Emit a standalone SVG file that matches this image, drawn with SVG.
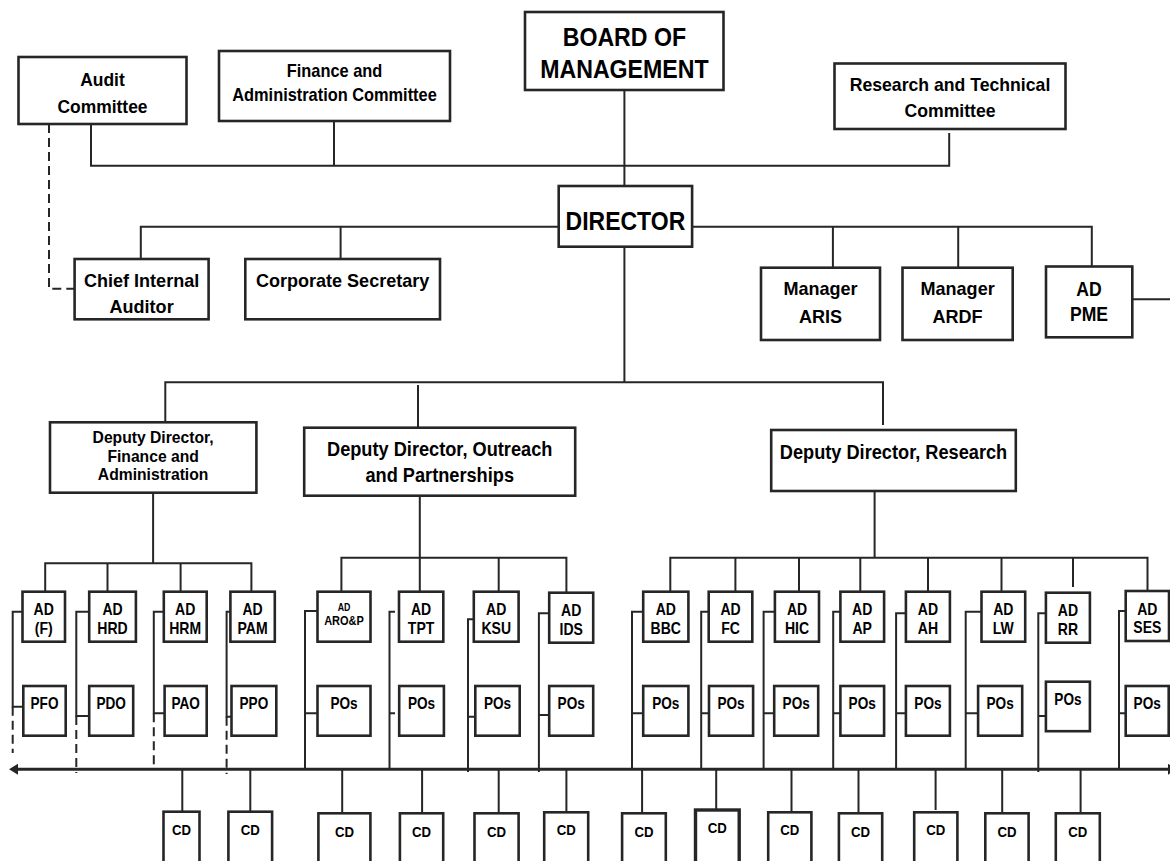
<svg xmlns="http://www.w3.org/2000/svg" width="1170" height="861" viewBox="0 0 1170 861">
  <defs>
    <style>
      .box { fill: #fff; stroke: #262626; stroke-width: 2.6; }
      .ln { fill: none; stroke: #262626; stroke-width: 2; }
      .dash { stroke-dasharray: 9 5; }
      .axis { fill: none; stroke: #262626; stroke-width: 3; }
      text { font-family: "Liberation Sans", Arial, sans-serif; font-weight: bold; fill: #000; text-anchor: middle; }
      .f26 { font-size: 26px; }
      .f25 { font-size: 25px; }
      .f20 { font-size: 20px; }
      .f19 { font-size: 19px; }
      .f18 { font-size: 18px; }
      .f16 { font-size: 16px; }
      .fad { font-size: 16.5px; }
      .f15 { font-size: 15px; }
      .f12 { font-size: 12.5px; }
      .f10 { font-size: 10px; }
    </style>
    <marker id="arrow" markerUnits="userSpaceOnUse" markerWidth="10" markerHeight="12" refX="0" refY="5.5" orient="auto-start-reverse">
      <path d="M0,0 L9,5.5 L0,11 Z" fill="#262626"/>
    </marker>
  </defs>
  <rect width="1170" height="861" fill="#fff"/>

  <!-- connectors -->
  <g id="connectors">
    <!-- board and committees -->
    <path class="ln" d="M91,124 V165.7 H949.2 V133"/>
    <path class="ln" d="M334,121 V165.7"/>
    <path class="ln" d="M624.4,90 V186"/>
    <path class="ln dash" d="M49,124 V288.7 H74.6"/>
    <!-- director staff line -->
    <path class="ln" d="M140.8,259 V226.7 H558.7"/>
    <path class="ln" d="M340.6,226.7 V259"/>
    <path class="ln" d="M692,226.7 H1091.8 V266.5"/>
    <path class="ln" d="M832.9,226.7 V267.7"/>
    <path class="ln" d="M958.2,226.7 V267.7"/>
    <path class="ln" d="M1132.3,299.3 H1170"/>
    <!-- director to deputies -->
    <path class="ln" d="M624.4,246.7 V382.3"/>
    <path class="ln" d="M165.3,422.3 V382.3 H883 V425"/>
    <path class="ln" d="M418,385 V427.7"/>
    <!-- finance and administration branch -->
    <path class="ln" d="M153.1,492.7 V563.3"/>
    <path class="ln" d="M45.2,591.7 V563.3 H251.4 V591.7"/>
    <path class="ln" d="M107.5,563.3 V591.7"/>
    <path class="ln" d="M180.6,563.3 V591.7"/>
    <!-- outreach and partnerships branch -->
    <path class="ln" d="M419.8,495.7 V591.7"/>
    <path class="ln" d="M341.4,591.7 V557.7 H566.4 V592.7"/>
    <path class="ln" d="M498.7,557.7 V591.7"/>
    <!-- research branch -->
    <path class="ln" d="M874.6,491 V557.7"/>
    <path class="ln" d="M670.3,591.7 V557.7 H1147.5 V591"/>
    <path class="ln" d="M735.4,557.7 V591.7"/>
    <path class="ln" d="M799,557.7 V591.7"/>
    <path class="ln" d="M860.3,557.7 V591.7"/>
    <path class="ln" d="M928,557.7 V591.7"/>
    <path class="ln" d="M1001.5,557.7 V591.7"/>
    <path class="ln" d="M1073,557.7 V587"/>
    <!-- AD to PO brackets -->
    <path class="ln" d="M22.5,611.7 H12.7 V706.7 H23.3"/>
    <path class="ln dash" d="M12.7,706.7 V753"/>
    <path class="ln" d="M89.2,611.7 H76.3 V716 H89.2"/>
    <path class="ln dash" d="M76.3,716 V773"/>
    <path class="ln" d="M163.8,611.7 H153.8 V713.3 H164.6"/>
    <path class="ln dash" d="M153.8,713.3 V767"/>
    <path class="ln" d="M230.4,611.7 H226.6 V716.7 H231.5"/>
    <path class="ln dash" d="M226.6,716.7 V774"/>
    <path class="ln" d="M317.5,611 H305 V769.3 M305,713.3 H317.5"/>
    <path class="ln" d="M395,611.7 H389.5 V769.3 M389.5,713.3 H395"/>
    <path class="ln" d="M473.8,619.3 H468 V772 M468,716.7 H475.3"/>
    <path class="ln" d="M549.2,613.3 H538.9 V772 M538.9,715 H549.2"/>
    <path class="ln" d="M643.2,611.7 H632 V769.3 M632,713.3 H643.2"/>
    <path class="ln" d="M708.7,611.7 H701.2 V769.3 M701.2,713.3 H709"/>
    <path class="ln" d="M774.9,611.7 H763.6 V769.3 M763.6,713.3 H774.2"/>
    <path class="ln" d="M840.4,611.7 H833.2 V769.3 M833.2,713.3 H840.4"/>
    <path class="ln" d="M905.9,613.3 H896.1 V769.3 M896.1,713.3 H905.9"/>
    <path class="ln" d="M981.5,611.7 H965.7 V769.3 M965.7,713.3 H978.1"/>
    <path class="ln" d="M1045.9,613.3 H1038.3 V772 M1038.3,716 H1045.9"/>
    <path class="ln" d="M1125.7,611 H1119 V769.3 M1119,713.3 H1125.7"/>
    <!-- common line with arrows at both ends -->
    <line class="axis" x1="18" y1="769.3" x2="1168" y2="769.3" marker-start="url(#arrow)" marker-end="url(#arrow)"/>
    <!-- drops to CD boxes -->
    <path class="ln" d="M182.3,769.3 V811.7 M250.3,769.3 V811.7 M342.2,769.3 V813.3 M422.1,769.3 V813.3 M498.7,769.3 V813.3 M566.4,769.3 V812.3 M642.1,769.3 V813.3 M716.2,769.3 V810 M791.5,769.3 V812.3 M858.5,769.3 V813.3 M935.6,769.3 V810 M1002.2,769.3 V813.3 M1080.6,769.3 V813.3"/>
  </g>

  <!-- top level -->
  <g id="audit-committee">
    <rect class="box" x="18.5" y="57" width="168" height="67"/>
    <text class="f18" transform="translate(102.5,0) scale(0.97,1)"><tspan x="0" y="86">Audit</tspan><tspan x="0" y="113">Committee</tspan></text>
  </g>
  <g id="finance-committee">
    <rect class="box" x="219" y="51" width="231" height="70"/>
    <text class="f18" transform="translate(334.5,0) scale(0.91,1)"><tspan x="0" y="77">Finance and</tspan><tspan x="0" y="101.5">Administration Committee</tspan></text>
  </g>
  <g id="board">
    <rect class="box" x="525" y="12" width="198.5" height="78"/>
    <text class="f26" transform="translate(624.4,0) scale(0.89,1)"><tspan x="0" y="46">BOARD OF</tspan><tspan x="0" y="78">MANAGEMENT</tspan></text>
  </g>
  <g id="research-committee">
    <rect class="box" x="834.5" y="63.5" width="231" height="65.5"/>
    <text class="f18" transform="translate(950,0) scale(0.98,1)"><tspan x="0" y="91.5">Research and Technical</tspan><tspan x="0" y="117">Committee</tspan></text>
  </g>

  <!-- director and staff -->
  <g id="director">
    <rect class="box" x="558.7" y="186" width="133.4" height="60.7"/>
    <text class="f25" transform="translate(625.4,0) scale(0.92,1)"><tspan x="0" y="230">DIRECTOR</tspan></text>
  </g>
  <g id="chief-internal-auditor">
    <rect class="box" x="74.6" y="259" width="134" height="60.3"/>
    <text class="f19" transform="translate(141.6,0) scale(0.95,1)"><tspan x="0" y="287.3">Chief Internal</tspan><tspan x="0" y="313.3">Auditor</tspan></text>
  </g>
  <g id="corporate-secretary">
    <rect class="box" x="245.3" y="259" width="194.7" height="60.3"/>
    <text class="f19" transform="translate(342.6,0) scale(0.95,1)"><tspan x="0" y="287.3">Corporate Secretary</tspan></text>
  </g>
  <g id="manager-aris">
    <rect class="box" x="761" y="267.7" width="119" height="72.3"/>
    <text class="f19" transform="translate(820.5,0) scale(0.95,1)"><tspan x="0" y="295">Manager</tspan><tspan x="0" y="323.3">ARIS</tspan></text>
  </g>
  <g id="manager-ardf">
    <rect class="box" x="902.5" y="267.7" width="110.2" height="72.3"/>
    <text class="f19" transform="translate(957.6,0) scale(0.95,1)"><tspan x="0" y="295">Manager</tspan><tspan x="0" y="323.3">ARDF</tspan></text>
  </g>
  <g id="ad-pme">
    <rect class="box" x="1046" y="266.5" width="86.3" height="70.8"/>
    <text class="f20" transform="translate(1089,0) scale(0.88,1)"><tspan x="0" y="296">AD</tspan><tspan x="0" y="320.7">PME</tspan></text>
  </g>

  <!-- deputy directors -->
  <g id="dd-finance-admin">
    <rect class="box" x="50" y="422.3" width="206.4" height="70.4"/>
    <text class="f16" transform="translate(153.1,0) scale(0.98,1)"><tspan x="0" y="443.5">Deputy Director,</tspan><tspan x="0" y="462">Finance and</tspan><tspan x="0" y="480.5">Administration</tspan></text>
  </g>
  <g id="dd-outreach">
    <rect class="box" x="304.2" y="427.7" width="271" height="68"/>
    <text class="f20" transform="translate(439.7,0) scale(0.91,1)"><tspan x="0" y="456">Deputy Director, Outreach</tspan><tspan x="0" y="482">and Partnerships</tspan></text>
  </g>
  <g id="dd-research">
    <rect class="box" x="771.2" y="430" width="244.6" height="61"/>
    <text class="f20" transform="translate(893.5,0) scale(0.91,1)"><tspan x="0" y="459.3">Deputy Director, Research</tspan></text>
  </g>

  <!-- assistant directors -->
  <g id="ad-f"><rect class="box" x="22.5" y="591.7" width="42.5" height="50"/>
    <text class="fad" transform="translate(43.7,0) scale(0.85,1)"><tspan x="0" y="615.5">AD</tspan><tspan x="0" y="634.5">(F)</tspan></text></g>
  <g id="ad-hrd"><rect class="box" x="89.2" y="591.7" width="46.7" height="50"/>
    <text class="fad" transform="translate(112.5,0) scale(0.85,1)"><tspan x="0" y="615.5">AD</tspan><tspan x="0" y="634">HRD</tspan></text></g>
  <g id="ad-hrm"><rect class="box" x="163.8" y="591.7" width="42.9" height="50"/>
    <text class="fad" transform="translate(185.2,0) scale(0.85,1)"><tspan x="0" y="615.5">AD</tspan><tspan x="0" y="634">HRM</tspan></text></g>
  <g id="ad-pam"><rect class="box" x="230.4" y="591.7" width="44.4" height="50"/>
    <text class="fad" transform="translate(252.6,0) scale(0.85,1)"><tspan x="0" y="615.5">AD</tspan><tspan x="0" y="634">PAM</tspan></text></g>
  <g id="ad-arop"><rect class="box" x="317.5" y="591.7" width="53" height="50"/>
    <text transform="translate(344,0) scale(0.88,1)"><tspan class="f10" x="0" y="610.7">AD</tspan><tspan class="f12" x="0" y="625">ARO&amp;P</tspan></text></g>
  <g id="ad-tpt"><rect class="box" x="399" y="591.7" width="44.3" height="50"/>
    <text class="fad" transform="translate(421.1,0) scale(0.85,1)"><tspan x="0" y="615.5">AD</tspan><tspan x="0" y="634">TPT</tspan></text></g>
  <g id="ad-ksu"><rect class="box" x="473.8" y="591.7" width="44.8" height="50"/>
    <text class="fad" transform="translate(496.2,0) scale(0.85,1)"><tspan x="0" y="615.5">AD</tspan><tspan x="0" y="634">KSU</tspan></text></g>
  <g id="ad-ids"><rect class="box" x="549.2" y="592.7" width="44" height="50"/>
    <text class="fad" transform="translate(571.2,0) scale(0.85,1)"><tspan x="0" y="616.5">AD</tspan><tspan x="0" y="635">IDS</tspan></text></g>
  <g id="ad-bbc"><rect class="box" x="643.2" y="591.7" width="45.2" height="50"/>
    <text class="fad" transform="translate(665.8,0) scale(0.85,1)"><tspan x="0" y="615.5">AD</tspan><tspan x="0" y="634">BBC</tspan></text></g>
  <g id="ad-fc"><rect class="box" x="708.7" y="591.7" width="43.6" height="50"/>
    <text class="fad" transform="translate(730.5,0) scale(0.85,1)"><tspan x="0" y="615.5">AD</tspan><tspan x="0" y="634">FC</tspan></text></g>
  <g id="ad-hic"><rect class="box" x="774.9" y="591.7" width="44.1" height="50"/>
    <text class="fad" transform="translate(797,0) scale(0.85,1)"><tspan x="0" y="615.5">AD</tspan><tspan x="0" y="634">HIC</tspan></text></g>
  <g id="ad-ap"><rect class="box" x="840.4" y="591.7" width="43.7" height="50"/>
    <text class="fad" transform="translate(862.2,0) scale(0.85,1)"><tspan x="0" y="615.5">AD</tspan><tspan x="0" y="634">AP</tspan></text></g>
  <g id="ad-ah"><rect class="box" x="905.9" y="591.7" width="44" height="50"/>
    <text class="fad" transform="translate(927.9,0) scale(0.85,1)"><tspan x="0" y="615.5">AD</tspan><tspan x="0" y="634">AH</tspan></text></g>
  <g id="ad-lw"><rect class="box" x="981.5" y="591.7" width="43.7" height="50"/>
    <text class="fad" transform="translate(1003.3,0) scale(0.85,1)"><tspan x="0" y="615.5">AD</tspan><tspan x="0" y="634">LW</tspan></text></g>
  <g id="ad-rr"><rect class="box" x="1045.9" y="592.7" width="44" height="50"/>
    <text class="fad" transform="translate(1067.9,0) scale(0.85,1)"><tspan x="0" y="616.5">AD</tspan><tspan x="0" y="635">RR</tspan></text></g>
  <g id="ad-ses"><rect class="box" x="1125.7" y="591" width="43.3" height="50"/>
    <text class="fad" transform="translate(1147.3,0) scale(0.85,1)"><tspan x="0" y="615">AD</tspan><tspan x="0" y="633.5">SES</tspan></text></g>

  <!-- programme officers -->
  <g id="pfo"><rect class="box" x="23.3" y="686" width="42.4" height="49.7"/>
    <text class="f16" transform="translate(44.5,0) scale(0.85,1)"><tspan x="0" y="709.5">PFO</tspan></text></g>
  <g id="pdo"><rect class="box" x="89.2" y="686" width="44" height="49.7"/>
    <text class="f16" transform="translate(111.2,0) scale(0.85,1)"><tspan x="0" y="709.5">PDO</tspan></text></g>
  <g id="pao"><rect class="box" x="164.6" y="686" width="42.1" height="49.7"/>
    <text class="f16" transform="translate(185.6,0) scale(0.85,1)"><tspan x="0" y="709.5">PAO</tspan></text></g>
  <g id="ppo"><rect class="box" x="231.5" y="686" width="44.8" height="49.7"/>
    <text class="f16" transform="translate(253.9,0) scale(0.85,1)"><tspan x="0" y="709.5">PPO</tspan></text></g>
  <g id="pos-arop"><rect class="box" x="317.5" y="686" width="53" height="49.7"/>
    <text class="f16" transform="translate(344,0) scale(0.85,1)"><tspan x="0" y="709.5">POs</tspan></text></g>
  <g id="pos-tpt"><rect class="box" x="399.2" y="686" width="44.7" height="49.7"/>
    <text class="f16" transform="translate(421.5,0) scale(0.85,1)"><tspan x="0" y="709.5">POs</tspan></text></g>
  <g id="pos-ksu"><rect class="box" x="475.3" y="686" width="44.4" height="49.7"/>
    <text class="f16" transform="translate(497.5,0) scale(0.85,1)"><tspan x="0" y="709.5">POs</tspan></text></g>
  <g id="pos-ids"><rect class="box" x="549.2" y="686" width="44" height="49.7"/>
    <text class="f16" transform="translate(571.2,0) scale(0.85,1)"><tspan x="0" y="709.5">POs</tspan></text></g>
  <g id="pos-bbc"><rect class="box" x="643.2" y="686" width="45.2" height="49.7"/>
    <text class="f16" transform="translate(665.8,0) scale(0.85,1)"><tspan x="0" y="709.5">POs</tspan></text></g>
  <g id="pos-fc"><rect class="box" x="709" y="686" width="44.1" height="49.7"/>
    <text class="f16" transform="translate(731,0) scale(0.85,1)"><tspan x="0" y="709.5">POs</tspan></text></g>
  <g id="pos-hic"><rect class="box" x="774.2" y="686" width="44" height="49.7"/>
    <text class="f16" transform="translate(796.2,0) scale(0.85,1)"><tspan x="0" y="709.5">POs</tspan></text></g>
  <g id="pos-ap"><rect class="box" x="840.4" y="686" width="43.7" height="49.7"/>
    <text class="f16" transform="translate(862.2,0) scale(0.85,1)"><tspan x="0" y="709.5">POs</tspan></text></g>
  <g id="pos-ah"><rect class="box" x="905.9" y="686" width="44" height="49.7"/>
    <text class="f16" transform="translate(927.9,0) scale(0.85,1)"><tspan x="0" y="709.5">POs</tspan></text></g>
  <g id="pos-lw"><rect class="box" x="978.1" y="686" width="44.1" height="49.7"/>
    <text class="f16" transform="translate(1000.1,0) scale(0.85,1)"><tspan x="0" y="709.5">POs</tspan></text></g>
  <g id="pos-rr"><rect class="box" x="1045.9" y="681.7" width="44" height="49.5"/>
    <text class="f16" transform="translate(1067.9,0) scale(0.85,1)"><tspan x="0" y="705">POs</tspan></text></g>
  <g id="pos-ses"><rect class="box" x="1125.7" y="686" width="43" height="49.7"/>
    <text class="f16" transform="translate(1147.2,0) scale(0.85,1)"><tspan x="0" y="709.5">POs</tspan></text></g>

  <!-- centre directors -->
  <g id="cd-1"><rect class="box" x="163.5" y="811.7" width="36" height="60"/>
    <text class="f15" transform="translate(181.5,0) scale(0.88,1)"><tspan x="0" y="835.5">CD</tspan></text></g>
  <g id="cd-2"><rect class="box" x="228.4" y="811.7" width="43.7" height="60"/>
    <text class="f15" transform="translate(250.2,0) scale(0.88,1)"><tspan x="0" y="835.5">CD</tspan></text></g>
  <g id="cd-3"><rect class="box" x="318.4" y="813.3" width="52" height="60"/>
    <text class="f15" transform="translate(344.4,0) scale(0.88,1)"><tspan x="0" y="837">CD</tspan></text></g>
  <g id="cd-4"><rect class="box" x="399.9" y="813.3" width="43.3" height="60"/>
    <text class="f15" transform="translate(421.5,0) scale(0.88,1)"><tspan x="0" y="837">CD</tspan></text></g>
  <g id="cd-5"><rect class="box" x="474.5" y="813.3" width="44.1" height="60"/>
    <text class="f15" transform="translate(496.5,0) scale(0.88,1)"><tspan x="0" y="837">CD</tspan></text></g>
  <g id="cd-6"><rect class="box" x="544.2" y="812.3" width="44" height="60"/>
    <text class="f15" transform="translate(566.2,0) scale(0.88,1)"><tspan x="0" y="835.5">CD</tspan></text></g>
  <g id="cd-7"><rect class="box" x="622.1" y="813.3" width="43.7" height="60"/>
    <text class="f15" transform="translate(644,0) scale(0.88,1)"><tspan x="0" y="837">CD</tspan></text></g>
  <g id="cd-8"><rect class="box" x="695.5" y="810" width="43.7" height="60" style="stroke-width:3.4"/>
    <text class="f15" transform="translate(717.3,0) scale(0.88,1)"><tspan x="0" y="833">CD</tspan></text></g>
  <g id="cd-9"><rect class="box" x="768.2" y="812.3" width="43.2" height="60"/>
    <text class="f15" transform="translate(789.8,0) scale(0.88,1)"><tspan x="0" y="835.5">CD</tspan></text></g>
  <g id="cd-10"><rect class="box" x="838.9" y="813.3" width="43.3" height="60"/>
    <text class="f15" transform="translate(860.5,0) scale(0.88,1)"><tspan x="0" y="837">CD</tspan></text></g>
  <g id="cd-11"><rect class="box" x="914.2" y="812.3" width="43.2" height="60"/>
    <text class="f15" transform="translate(935.8,0) scale(0.88,1)"><tspan x="0" y="835.5">CD</tspan></text></g>
  <g id="cd-12"><rect class="box" x="985.3" y="813.3" width="43.3" height="60"/>
    <text class="f15" transform="translate(1007,0) scale(0.88,1)"><tspan x="0" y="837">CD</tspan></text></g>
  <g id="cd-13"><rect class="box" x="1055.8" y="813.3" width="44" height="60"/>
    <text class="f15" transform="translate(1077.8,0) scale(0.88,1)"><tspan x="0" y="837">CD</tspan></text></g>
</svg>
